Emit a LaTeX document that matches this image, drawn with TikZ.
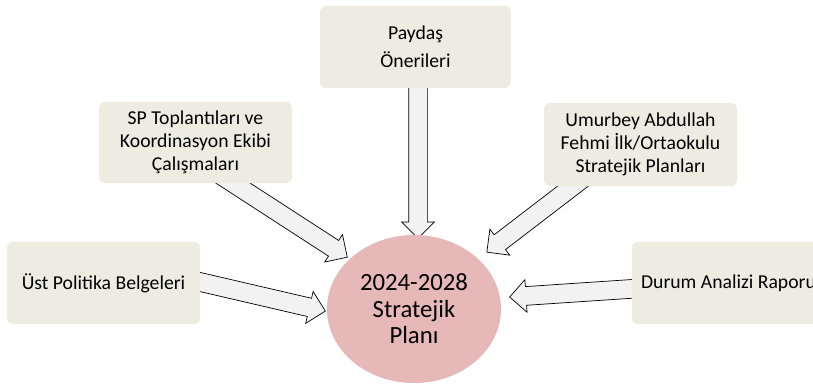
\documentclass[tikz,border=0pt]{standalone}
\usepackage{fontspec}
\setmainfont{Carlito}
\usetikzlibrary{shapes.geometric,shapes.arrows,calc}

\definecolor{boxtan}{HTML}{EEECE1}
\definecolor{planpink}{HTML}{E6B8B7}
\definecolor{arrowgray}{HTML}{F2F2F2}

\tikzset{
  srcbox/.style={rectangle, rounded corners=0.15cm, fill=boxtan, align=center,
                 minimum width=4.825cm, minimum height=2.05cm, inner sep=2pt,
                 font=\fontsize{14}{16.5}\selectfont},
  planbox/.style={ellipse, fill=planpink, align=center, inner sep=0pt,
                 minimum width=4.35cm, minimum height=3.7cm,
                 font=\fontsize{17.6}{18.8}\selectfont},
  bigarrow/.style={single arrow, draw=black, fill=arrowgray, line width=0.5pt,
                 inner xsep=0pt, inner ysep=0.225cm, minimum width=0.8cm,
                 single arrow head extend=0.175cm, single arrow head indent=0pt}
}

\newcommand\blockarrow[2]{\path let \p1=(#1), \p2=(#2) in
  node[bigarrow, anchor=tail, rotate={atan2(\y2-\y1,\x2-\x1)},
       minimum height={veclen(\x2-\x1,\y2-\y1)}] at (#1) {};}

\begin{document}
\begin{tikzpicture}[x=0.025cm, y=-0.025cm]
  \useasboundingbox (0,0) rectangle (813,383);
  % arrow ends
  \coordinate (payT) at (418,60);   \coordinate (payH) at (418,238);
  \coordinate (spT) at (202,163);   \coordinate (spH) at (347,257);
  \coordinate (umuT) at (607,160);  \coordinate (umuH) at (487,252);
  \coordinate (ustT) at (170,275);  \coordinate (ustH) at (325,311);
  \coordinate (durT) at (660,287);  \coordinate (durH) at (510,297);
  \blockarrow{payT}{payH}
  \blockarrow{spT}{spH}
  \blockarrow{umuT}{umuH}
  \blockarrow{ustT}{ustH}
  \blockarrow{durT}{durH}
  % boxes
  \node[srcbox, minimum width=4.775cm, font=\fontsize{14}{20}\selectfont] (pay) at (415.5,47) {Paydaş\\Önerileri};
  \node[srcbox, minimum height=2.025cm] (sp) at (195.5,142.5) {SP Toplantıları ve\\Koordinasyon Ekibi\\Çalışmaları};
  \node[srcbox, minimum height=2.075cm] (umu) at (640.5,144.5) {Umurbey Abdullah\\Fehmi İlk/Ortaokulu\\Stratejik Planları};
  \node[srcbox] (ust) at (103.5,283) {Üst Politika Belgeleri};
  \node[srcbox] (dur) at (728.5,283) {Durum Analizi Raporu};
  \node[planbox] (plan) at (414,309) {2024-2028\\Stratejik\\Planı};
\end{tikzpicture}
\end{document}
